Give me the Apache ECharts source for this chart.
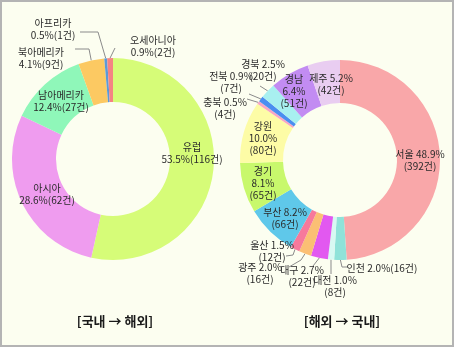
<!DOCTYPE html>
<html><head><meta charset="utf-8">
<script src="https://cdn.jsdelivr.net/npm/echarts@6/dist/echarts.min.js"></script>
<style>
html,body{margin:0;padding:0;background:#fcfef0;}
#wrap{position:relative;width:454px;height:347px;background:#fcfef0;}
#chart{position:absolute;left:0;top:0;width:454px;height:347px;}
#frame{position:absolute;left:0;top:0;width:454px;height:347px;box-sizing:border-box;border:2px solid #b4b4b4;pointer-events:none;}
</style></head>
<body><div id="wrap"><div id="chart"></div><div id="frame"></div></div>
<script>
// ---- data ----
const chartTitles = ['[국내 → 해외]', '[해외 → 국내]'];
const outboundNames = ['유럽', '아시아', '남아메리카', '북아메리카', '아프리카', '오세아니아'];
const outboundCounts = [116, 62, 27, 9, 1, 2];
const outboundPct = ['53.5', '28.6', '12.4', '4.1', '0.5', '0.9'];
const inboundNames = ['서울', '인천', '대전', '대구', '광주', '울산', '부산', '경기', '강원', '충북', '전북', '경북', '경남', '제주'];
const inboundCounts = [392, 16, 8, 22, 16, 12, 66, 65, 80, 4, 7, 20, 51, 42];
const inboundPct = ['48.9', '2.0', '1.0', '2.7', '2.0', '1.5', '8.2', '8.1', '10.0', '0.5', '0.9', '2.5', '6.4', '5.2'];

// ---- styles ----
const outboundColors = ['#d6fc78', '#ef9cef', '#8ff7b9', '#fcc962', '#5b9ad8', '#f58383'];
const inboundColors = ['#f9a7a9', '#8fe2d9', '#d8f9f3', '#e258f0', '#fbbf74', '#f7799c', '#5fc8ea', '#c8f86c', '#fdfca6', '#f8a6c4', '#4a8ef0', '#a8f0f0', '#c28cf2', '#e9cdf1'];
// label format: 'nl' = name \n pct(n건), 'sp' = name pct \n (n건), 'three' = name \n pct \n (n건), 'one' = single line
const outboundFmt = ['nl', 'nl', 'nl', 'nl', 'nl', 'nl'];
const inboundFmt = ['sp', 'one', 'sp', 'sp', 'sp', 'sp', 'sp', 'three', 'three', 'sp', 'sp', 'sp', 'three', 'sp'];
// label placement [x, y, extra leader points or null]
const outboundLayout = [
  [192, 153, null], [47, 194, null], [61, 101, null],
  [41, 58, [[89, 49], [75, 49]]],
  [53, 29.5, [[98, 32], [80, 32]]],
  [153, 46, [[115, 48]]]
];
const inboundLayout = [
  [420, 160, null],
  [382, 268, [[342, 267], [348, 267]]],
  [335, 286, [[331, 274]]],
  [302, 276.5, [[313, 266]]],
  [260, 273, [[301, 260], [289, 267]]],
  [272, 251.5, [[293, 255], [286, 256]]],
  [285, 218, null], [263, 183.5, null], [263, 138, null],
  [225, 108, [[247, 99]]],
  [231, 82, [[249, 94]]],
  [263, 70.5, [[260, 86]]],
  [294, 91, null], [331, 84.5, null]
];
const layouts = [outboundLayout, inboundLayout];

function fmtText(f, name, pct, n) {
  if (f === 'nl') return name + '\n' + pct + '%(' + n + '건)';
  if (f === 'sp') return name + ' ' + pct + '%\n(' + n + '건)';
  if (f === 'three') return name + '\n' + pct + '%\n(' + n + '건)';
  return name + ' ' + pct + '%(' + n + '건)';
}
function buildData(names, counts, pcts, colors, fmts, layout) {
  return names.map((nm, i) => {
    const hasLine = !!layout[i][2];
    return {
      name: nm, value: counts[i],
      itemStyle: { color: colors[i] },
      label: { position: hasLine ? 'outside' : 'inside', formatter: fmtText(fmts[i], nm, pcts[i], counts[i]) },
      labelLine: { show: hasLine }
    };
  });
}

const labelStyle = { show: true, color: '#2a2a2a', fontSize: 10, lineHeight: 12, fontFamily: '"Noto Sans CJK KR", sans-serif' };
const lineStyle = { lineStyle: { color: '#8a8a8a', width: 1 }, smooth: false, length: 5, length2: 5 };

function labelLayout(params) {
  const L = layouts[params.seriesIndex][params.dataIndex];
  const r = { x: L[0], y: L[1], align: 'center', verticalAlign: 'middle' };
  if (L[2] && params.labelLinePoints) {
    r.labelLinePoints = [params.labelLinePoints[0]].concat(L[2]);
  }
  return r;
}

const chart = echarts.init(document.getElementById('chart'), null, { renderer: 'canvas' });
chart.setOption({
  animation: false,
  backgroundColor: 'transparent',
  graphic: chartTitles.map((t, i) => ({
    type: 'text', x: i === 0 ? 115 : 342, y: 321,
    style: { text: t, align: 'center', verticalAlign: 'middle', textAlign: 'center', textVerticalAlign: 'middle',
      font: 'bold 13px "Noto Sans CJK KR", sans-serif', fill: '#1a1a1a' }
  })),
  series: [
    {
      type: 'pie', center: [113, 159], radius: [57, 101], startAngle: 90, clockwise: true,
      avoidLabelOverlap: false, silent: true,
      label: labelStyle, labelLine: lineStyle, labelLayout: labelLayout,
      emphasis: { disabled: true },
      data: buildData(outboundNames, outboundCounts, outboundPct, outboundColors, outboundFmt, outboundLayout)
    },
    {
      type: 'pie', center: [340, 160], radius: [57, 100], startAngle: 90, clockwise: true,
      avoidLabelOverlap: false, silent: true,
      label: labelStyle, labelLine: lineStyle, labelLayout: labelLayout,
      emphasis: { disabled: true },
      data: buildData(inboundNames, inboundCounts, inboundPct, inboundColors, inboundFmt, inboundLayout)
    }
  ]
});
</script></body></html>
